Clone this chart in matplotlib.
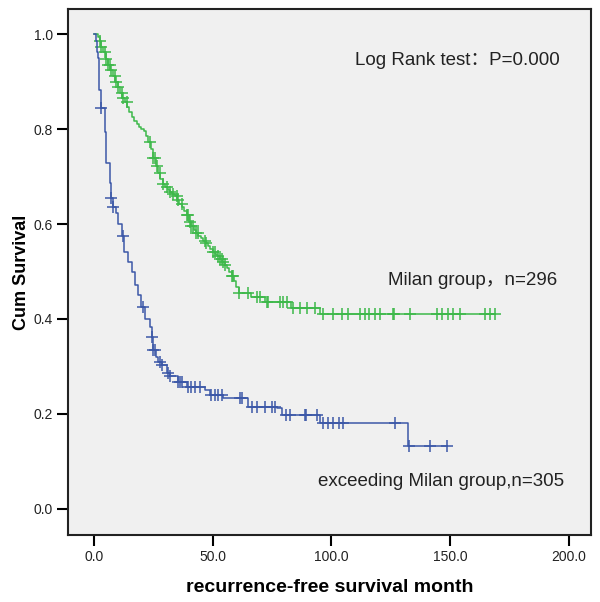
import numpy as np
import matplotlib
matplotlib.use('Agg')
import matplotlib.pyplot as plt

plt.rcParams['font.family'] = ['Liberation Sans', 'Noto Sans CJK SC', 'DejaVu Sans']

# Milan group, n=296 (step times / survival after the step)
milan_t = [0, 1.7, 2.5, 3.2, 4, 5, 6, 7, 8, 9, 10, 11, 12, 13, 14, 15, 16, 17, 18, 19,
           20, 21, 22, 23, 24, 25, 26, 27, 28, 29, 30, 31, 32, 33, 34, 35, 36, 37, 38, 39,
           40, 41, 42, 43, 44, 45, 46, 47, 48, 49, 50, 51, 52, 53, 54, 55, 56, 57, 58, 59,
           60, 61, 66, 72, 83, 95, 168.8]
milan_s = [1.0, 0.994, 0.986, 0.973, 0.962, 0.948, 0.935, 0.924, 0.912, 0.9, 0.888, 0.876,
           0.865, 0.858, 0.847, 0.836, 0.826, 0.818, 0.81, 0.804, 0.8, 0.795, 0.786, 0.772,
           0.757, 0.74, 0.722, 0.708, 0.695, 0.685, 0.678, 0.672, 0.668, 0.664, 0.658, 0.65,
           0.643, 0.635, 0.627, 0.62, 0.605, 0.595, 0.588, 0.582, 0.575, 0.57, 0.565, 0.56,
           0.553, 0.548, 0.542, 0.537, 0.532, 0.526, 0.52, 0.513, 0.507, 0.5, 0.49, 0.48,
           0.467, 0.455, 0.447, 0.436, 0.423, 0.41, 0.41]
milan_cens = [2.5, 3.2, 4.6, 5.3, 6, 6.7, 7.4, 8.8, 9.5, 10.2, 11.7, 12.3, 13.8, 23.6, 25,
              25.7, 26.4, 27.8, 29.2, 30.6, 32, 33.4, 34.8, 35.5, 36.9, 39, 39.7, 40.4, 41.1,
              41.8, 43.2, 43.9, 46.7, 47.4, 50.2, 50.9, 52.3, 53, 53.8, 54.4, 55.2, 58, 58.6,
              61, 64.8, 68.6, 69.9, 72.8, 73.3, 78.3, 79.6, 81.3, 83.8, 86.7, 89.7, 93, 96.4,
              100.6, 104.4, 107, 112, 114, 116, 118.3, 120.4, 126, 126.3, 133, 144.4, 146.5,
              149, 151, 154, 164.6, 166.7, 168.8]

# exceeding Milan group, n=305
exc_t = [0, 0.8, 1.5, 1.8, 2.1, 3.2, 4.6, 5.3, 6.7, 7.4, 8.1, 9.5, 10.2, 11.7, 12.5, 14.5,
         15.9, 17.3, 18.7, 20, 21.5, 23.6, 24.3, 25, 26, 27.1, 28.5, 30.6, 32, 35.5, 39,
         46.7, 48.8, 54.4, 65, 77, 79, 95.2, 132.1, 148.5]
exc_s = [1.0, 0.985, 0.963, 0.95, 0.882, 0.845, 0.794, 0.728, 0.686, 0.654, 0.636, 0.623,
         0.6, 0.575, 0.542, 0.52, 0.5, 0.472, 0.45, 0.426, 0.4, 0.384, 0.363, 0.335, 0.32,
         0.31, 0.303, 0.286, 0.279, 0.268, 0.257, 0.25, 0.24, 0.233, 0.215, 0.212, 0.198,
         0.18, 0.133, 0.133]
exc_cens = [3.2, 7.4, 8.1, 12.3, 20.8, 24.3, 25, 25.7, 27.8, 28.5, 31.3, 32, 35.5, 36.2,
            36.9, 39.7, 41.1, 42.5, 44.6, 49.5, 50.9, 52.3, 53.8, 61.5, 62.2, 66.4, 68.5, 72,
            74.8, 76.2, 81.1, 82.5, 88.8, 89.5, 93.8, 96.5, 98.7, 100.8, 103, 105, 126.7,
            132.6, 141.5, 148.5]

xticks = [0, 50, 100, 150, 200]
yticks = [0.0, 0.2, 0.4, 0.6, 0.8, 1.0]


def surv_at(times, surv, t):
    i = np.searchsorted(times, t, side='right') - 1
    return np.array(surv)[i]


fig = plt.figure(figsize=(6, 6.02), dpi=100)
ax = fig.add_axes([0.1133, 0.1113, 0.8717, 0.8738])
ax.set_facecolor('#F0F0F0')

green = '#3DB84A'
blue = '#3C58A8'

for t, s, c, col in [(milan_t, milan_s, milan_cens, green), (exc_t, exc_s, exc_cens, blue)]:
    ax.step(t, s, where='post', color=col, lw=1.1)
    ax.plot(c, surv_at(t, s, c), '+', color=col, ms=8, mew=1.1, ls='none')

ax.set_xlim(-10.9, 209.3)
ax.set_ylim(-0.055, 1.053)
ax.set_xticks(xticks)
ax.set_xticklabels(['%.1f' % v for v in xticks])
ax.set_yticks(yticks)
ax.set_yticklabels(['%.1f' % v for v in yticks])
ax.tick_params(direction='out', length=8, width=1.5, labelsize=10, colors='black',
               labelcolor='#222222', pad=3)
for sp in ax.spines.values():
    sp.set_linewidth(1.5)
    sp.set_color('#222222')

ax.set_xlabel('recurrence-free survival month', fontsize=14, fontweight='bold', va='center')
ax.xaxis.set_label_coords(0.5, -(587 - 535) / 526)
ax.set_ylabel('Cum Survival', fontsize=13, fontweight='bold', va='center')
ax.yaxis.set_label_coords(-46 / 523, 0.5)

ax.text(109.9, 0.945, 'Log Rank test：P=0.000', fontsize=13.5, va='center', color='#222222')
ax.text(123.8, 0.482, 'Milan group，n=296', fontsize=13.5, va='center', color='#222222')
ax.text(94.3, 0.057, 'exceeding Milan group,n=305', fontsize=13.5, va='center', color='#222222')

fig.savefig('out.png', dpi=100)
